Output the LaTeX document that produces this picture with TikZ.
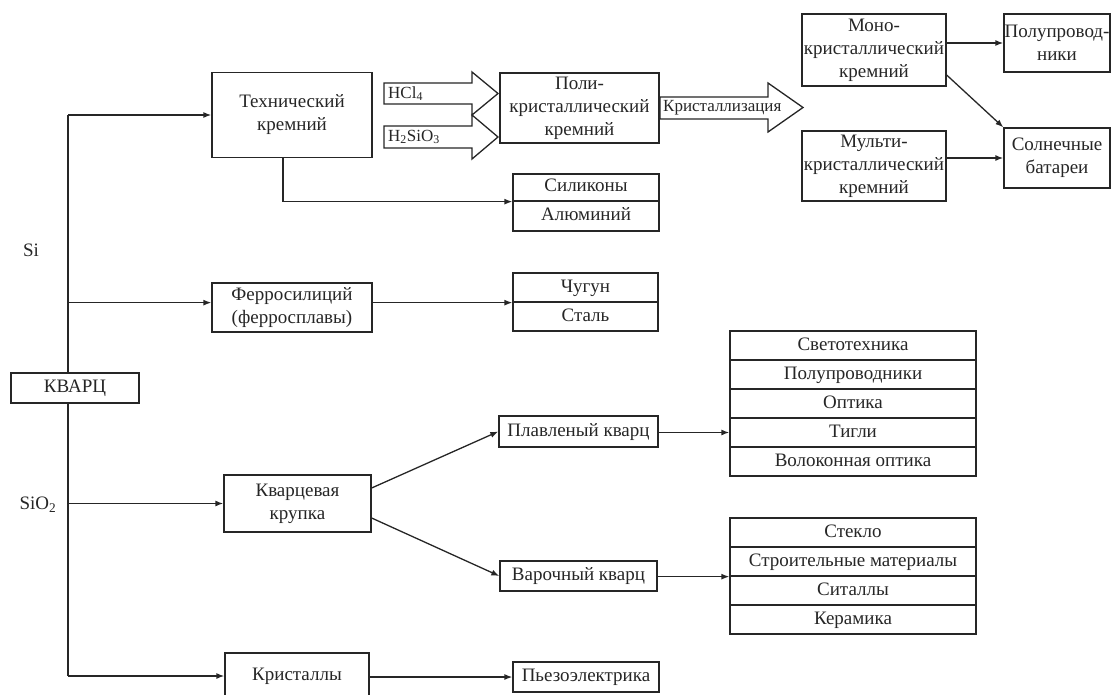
\documentclass[tikz,border=0pt]{standalone}
\usepackage{fontspec}
\setmainfont{Liberation Serif}
\usetikzlibrary{arrows.meta,positioning}

\tikzset{
  box/.style={draw, fill=white, align=center, inner sep=1pt, line width=1.3pt},
  oneline/.style={box, text height=13pt, text depth=4pt},
  cell/.style={oneline, minimum width=246pt, minimum height=29pt, inner sep=0pt},
  arr/.style={line width=1.3pt, -{Latex[length=8pt,width=6pt]}},
  ln/.style={line width=1.3pt},
  barrow/.style={draw, line width=1.3pt, fill=white, line join=miter},
  small/.style={font=\fontsize{17}{20}\selectfont, inner sep=1pt},
}

\begin{document}
\begin{tikzpicture}[x=1pt,y=-1pt,font=\fontsize{19}{23}\selectfont,color=black!85]
\useasboundingbox (0,0) rectangle (1113,695);
% Trunk
\node[oneline, minimum width=128pt, minimum height=30pt] (kvarc) at (75,388) {КВАРЦ};
\coordinate (ttop) at (68,115);
\coordinate (tbot) at (68,676);
\draw[ln] (kvarc.north -| ttop) -- (ttop);
\draw[ln] (kvarc.south -| ttop) -- (tbot);
\node (si) at (31,250) {Si};
\node (sio) at (38,505) {SiO\textsubscript{2}};
% First level
\node[box, minimum width=160pt, minimum height=85pt] (tech) at (292,115) {Технический\\кремний};
\node[box, minimum width=160pt, minimum height=49pt] (ferro) at (292,307.5) {Ферросилиций\\(ферросплавы)};
\node[box, minimum width=147pt, minimum height=57pt] (kvkr) at (297.5,503.5) {Кварцевая\\крупка};
\node[oneline, minimum width=144pt, minimum height=46pt] (krist) at (297,676) {Кристаллы};
% Silicon branch
\node[box, minimum width=159pt, minimum height=70pt] (poly) at (579.5,108) {Поли-\\кристаллический\\кремний};
\node[oneline, minimum width=146pt, minimum height=27pt] (silik) at (586,187.5) {Силиконы};
\node[oneline, minimum width=146pt, minimum height=30pt] (alum) at (586,216) {Алюминий};
\node[oneline, minimum width=145pt, minimum height=29pt] (chug) at (585.5,287.5) {Чугун};
\node[oneline, minimum width=145pt, minimum height=29pt] (stal) at (585.5,316.5) {Сталь};
\node[box, minimum width=144pt, minimum height=72pt, inner sep=0pt] (mono) at (874,50) {Моно-\\кристаллический\\кремний};
\node[box, minimum width=144pt, minimum height=70pt, inner sep=0pt] (multi) at (874,166) {Мульти-\\кристаллический\\кремний};
\node[box, minimum width=106pt, minimum height=58pt, inner sep=0pt] (polup) at (1057,43) {Полупровод-\\ники};
\node[box, minimum width=106pt, minimum height=60pt] (soln) at (1057,158) {Солнечные\\батареи};
% Quartz branch
\node[oneline, minimum width=159pt, minimum height=31pt] (plav) at (578.5,431.5) {Плавленый кварц};
\node[oneline, minimum width=157pt, minimum height=30pt] (var) at (578.5,576) {Варочный кварц};
\node[oneline, minimum width=146pt, minimum height=30pt] (pyezo) at (586,677) {Пьезоэлектрика};
\foreach \n/\t [count=\i from 0] in {svet/Светотехника, polu/Полупроводники, opt/Оптика, tig/Тигли, volok/Волоконная оптика}
  \node[cell] (\n) at (853,345.5+29*\i) {\t};
\foreach \n/\t [count=\i from 0] in {stek/Стекло, stroy/Строительные материалы, sit/Ситаллы, ker/Керамика}
  \node[cell] (\n) at (853,532.5+29*\i) {\t};
% Block arrows
\draw[barrow] (384,83) -- (472,83) -- (472,72) -- (498,93.5) -- (472,115) -- (472,104) -- (384,104) -- cycle;
\draw[barrow] (384,126) -- (472,126) -- (472,115) -- (498,137) -- (472,159) -- (472,148) -- (384,148) -- cycle;
\draw[barrow] (660,97) -- (768,97) -- (768,83) -- (803,107.5) -- (768,132) -- (768,119) -- (660,119) -- cycle;
\node[small, anchor=west] (hcl) at (387,93.5) {HCl\textsubscript{4}};
\node[small, anchor=west] (hsio) at (387,137) {H\textsubscript{2}SiO\textsubscript{3}};
\node[small, anchor=west] (kryst) at (662,108) {Кристаллизация};
% Connectors
\draw[arr] (ttop) -- (tech.west);
\draw[arr] (ttop |- chug.south west) -- (ferro.west |- chug.south west);
\draw[arr] (ttop |- kvkr.west) -- (kvkr.west);
\draw[arr] (tbot) -- (krist.west);
\draw[arr] ([xshift=-9pt]tech.south) |- (silik.south west);
\draw[arr] (ferro.east |- chug.south west) -- (chug.south west);
\draw[arr] ([yshift=15.5pt]kvkr.east) -- (plav.west);
\draw[arr] ([yshift=-14.5pt]kvkr.east) -- (var.west);
\draw[arr] (tig.west -| plav.east) -- (tig.west);
\draw[arr] (var.east |- stroy.south west) -- (stroy.south west);
\draw[arr] (krist.east |- pyezo.west) -- (pyezo.west);
\draw[arr] (mono.east |- polup.west) -- (polup.west);
\draw[arr] ([yshift=-25pt]mono.east) -- (soln.north west);
\draw[arr] (multi.east |- soln.west) -- (soln.west);
\end{tikzpicture}
\end{document}
